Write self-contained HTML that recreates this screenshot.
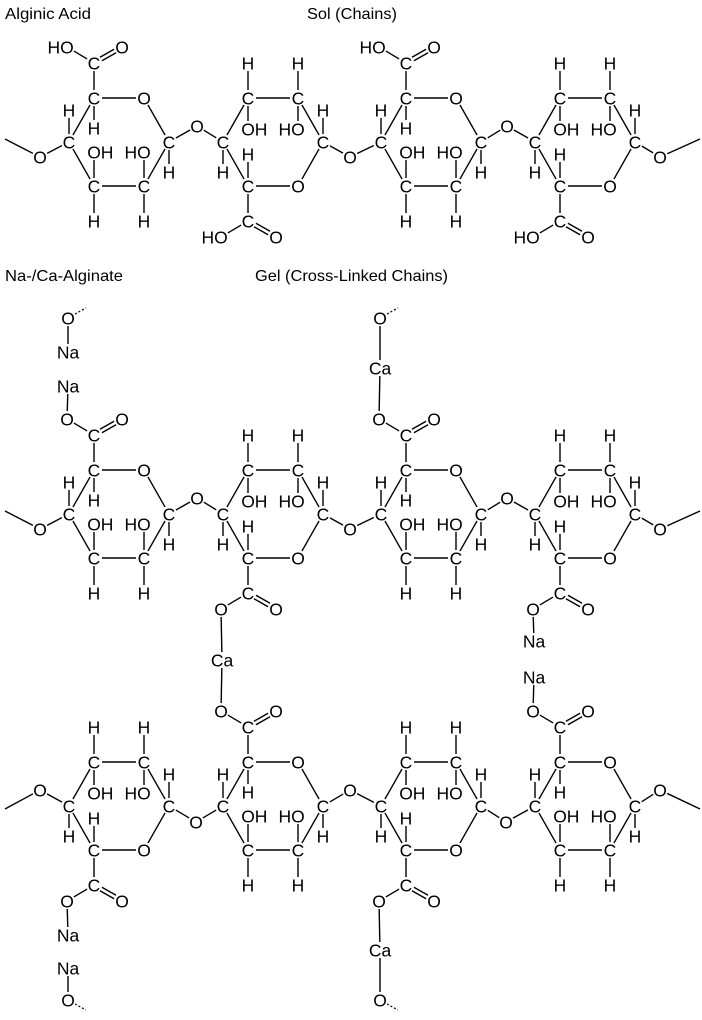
<!DOCTYPE html>
<html><head><meta charset="utf-8"><style>
html,body{margin:0;padding:0;background:#fff}
svg{display:block}
text{font-family:"Liberation Sans",Arial,sans-serif;fill:#000}
</style></head><body>
<svg id="s" width="702" height="1020" viewBox="0 0 702 1020" xmlns="http://www.w3.org/2000/svg">
<text x="5" y="19" font-size="16" textLength="86" lengthAdjust="spacingAndGlyphs">Alginic Acid</text>
<text x="307" y="19" font-size="16" textLength="90" lengthAdjust="spacingAndGlyphs">Sol (Chains)</text>
<text x="5" y="281" font-size="16" textLength="118" lengthAdjust="spacingAndGlyphs">Na-/Ca-Alginate</text>
<text x="255" y="281" font-size="16" textLength="193" lengthAdjust="spacingAndGlyphs">Gel (Cross-Linked Chains)</text>
</svg>
<script>
var S=document.getElementById('s');var NS='http://www.w3.org/2000/svg';
var FS=17.5;
function el(n,a,t){var e=document.createElementNS(NS,n);for(var k in a)e.setAttribute(k,a[k]);if(t)e.textContent=t;S.appendChild(e);return e;}
function lbl(p,t,anchor){var x=p[0],a='middle';
 if(anchor==='OH'){x=p[0]-6.8;a='start';}
 if(anchor==='HO'){x=p[0]+6.8;a='end';}
 el('text',{x:x,y:p[1]+6.3,'font-size':FS,'text-anchor':a},t);}
function bond(p,q,r1,r2){if(r1===undefined)r1=8;if(r2===undefined)r2=8;
 var dx=q[0]-p[0],dy=q[1]-p[1],d=Math.sqrt(dx*dx+dy*dy),ux=dx/d,uy=dy/d;
 el('line',{x1:p[0]+ux*r1,y1:p[1]+uy*r1,x2:q[0]-ux*r2,y2:q[1]-uy*r2,stroke:'#000','stroke-width':1.4});}
function dbl(p,q){var dx=q[0]-p[0],dy=q[1]-p[1],d=Math.sqrt(dx*dx+dy*dy),nx=-dy/d*2,ny=dx/d*2;
 bond([p[0]+nx,p[1]+ny],[q[0]+nx,q[1]+ny]);bond([p[0]-nx,p[1]-ny],[q[0]-nx,q[1]-ny]);}
function dash(p,q){el('line',{x1:p[0],y1:p[1],x2:q[0],y2:q[1],stroke:'#000','stroke-width':1.2,'stroke-dasharray':'2,2'});}
function ringA(x0,yt){var ym=yt+44,yb=yt+88;
 var C1=[x0,yt],O=[x0+50,yt],Cr=[x0+75,ym],Cbr=[x0+50,yb],Cbl=[x0,yb],Cl=[x0-25,ym];
 [C1,Cr,Cbr,Cbl,Cl].forEach(function(p){lbl(p,'C')});lbl(O,'O');
 bond(C1,O);bond(O,Cr);bond(Cr,Cbr);bond(Cbr,Cbl);bond(Cbl,Cl);bond(Cl,C1);
 var H1=[x0-25,yt+12];lbl(H1,'H');bond(Cl,H1);
 var H2=[x0,yt+30];lbl(H2,'H');bond(C1,H2);
 var OH=[x0,ym+10];lbl(OH,'OH','OH');bond(Cbl,OH);
 var HO=[x0+50,ym+10];lbl(HO,'HO','HO');bond(Cbr,HO);
 var H3=[x0+75,ym+30];lbl(H3,'H');bond(Cr,H3);
 var H4=[x0,yb+35];lbl(H4,'H');bond(Cbl,H4);
 var H5=[x0+50,yb+35];lbl(H5,'H');bond(Cbr,H5);
 return {Cl:Cl,Cr:Cr,top:C1,bot:Cbl};}
function ringB(x0,yt){var ym=yt+44,yb=yt+88;
 var Cl=[x0-25,ym],Ctl=[x0,yt],Ctr=[x0+50,yt],Cr=[x0+75,ym],O=[x0+50,yb],Cbl=[x0,yb];
 [Cl,Ctl,Ctr,Cr,Cbl].forEach(function(p){lbl(p,'C')});lbl(O,'O');
 bond(Cl,Ctl);bond(Ctl,Ctr);bond(Ctr,Cr);bond(Cr,O);bond(O,Cbl);bond(Cbl,Cl);
 var H1=[x0,yt-35];lbl(H1,'H');bond(Ctl,H1);
 var H2=[x0+50,yt-35];lbl(H2,'H');bond(Ctr,H2);
 var OH=[x0,yt+31];lbl(OH,'OH','OH');bond(Ctl,OH);
 var HO=[x0+50,yt+31];lbl(HO,'HO','HO');bond(Ctr,HO);
 var H3=[x0+75,yt+12];lbl(H3,'H');bond(Cr,H3);
 var H4=[x0,ym+12];lbl(H4,'H');bond(Cbl,H4);
 var H5=[x0-25,ym+30];lbl(H5,'H');bond(Cl,H5);
 return {Cl:Cl,Cr:Cr,top:Ctl,bot:Cbl};}
function carb(ring,up,leftLabel){var a=up?ring.top:ring.bot;var s=up?-1:1;
 var C=[a[0],a[1]+s*35];lbl(C,'C');bond(a,C);
 var OL=[a[0]-27,C[1]+s*16],OR=[a[0]+28,C[1]+s*16];
 if(leftLabel==='HO')lbl(OL,'HO','HO');else lbl(OL,'O');
 lbl(OR,'O');bond(C,OL);dbl(C,OR);return OL;}
function bridge(a,p,b){lbl(p,'O');bond(a,p);bond(p,b);}
function chainTop(yt,acid){var ym=yt+44;
 var A=ringA(94,yt),B=ringB(248,yt),A2=ringA(406,yt),B2=ringB(560,yt);
 bridge(A.Cr,[197,ym-16],B.Cl);bridge(B.Cr,[350,ym+15],A2.Cl);bridge(A2.Cr,[507,ym-16],B2.Cl);
 var L=[40,ym+15];lbl(L,'O');bond(A.Cl,L);bond(L,[5,ym-3],8,0);
 var R=[660,ym+15];lbl(R,'O');bond(B2.Cr,R);bond(R,[700,ym-3],8,0);
 var t=acid?'HO':'O';
 return [carb(A,true,t),carb(B,false,t),carb(A2,true,t),carb(B2,false,t)];}
chainTop(98,true);
var g=chainTop(470,false);
var na1=[68,386];lbl(na1,'Na');bond(g[0],na1,8,8);
var o1=[68,318];lbl(o1,'O');dash([75,314],[86,308]);var na0=[68,352];lbl(na0,'Na');bond(o1,na0);
var ca1=[222,660];lbl(ca1,'Ca');bond(g[1],ca1);
var ca2=[380,368];lbl(ca2,'Ca');bond(g[2],ca2);var o2=[380,318];lbl(o2,'O');bond(ca2,o2);dash([387,314],[398,308]);
var na2=[534,641];lbl(na2,'Na');bond(g[3],na2);
(function(){var yt=762,ym=yt+44;
 var D=ringB(94,yt),E=ringA(248,yt),F=ringB(406,yt),G=ringA(560,yt);
 bridge(D.Cr,[196,ym+16],E.Cl);bridge(E.Cr,[350,ym-16],F.Cl);bridge(F.Cr,[506,ym+16],G.Cl);
 var L=[40,ym-16];lbl(L,'O');bond(D.Cl,L);bond(L,[5,ym+3],8,0);
 var R=[660,ym-16];lbl(R,'O');bond(G.Cr,R);bond(R,[700,ym+3],8,0);
 var oD=carb(D,false,'O'),oE=carb(E,true,'O'),oF=carb(F,false,'O'),oG=carb(G,true,'O');
 bond(ca1,oE);
 var naD=[68,935];lbl(naD,'Na');bond(oD,naD);
 var naD2=[68,968];lbl(naD2,'Na');var oD2=[68,1000];lbl(oD2,'O');bond(naD2,oD2);dash([75,1004],[86,1010]);
 var caF=[380,950];lbl(caF,'Ca');bond(oF,caF);var oF2=[380,1000];lbl(oF2,'O');bond(caF,oF2);dash([387,1004],[398,1010]);
 var naG=[534,677];lbl(naG,'Na');bond(oG,naG);
})();
</script>
</body></html>
